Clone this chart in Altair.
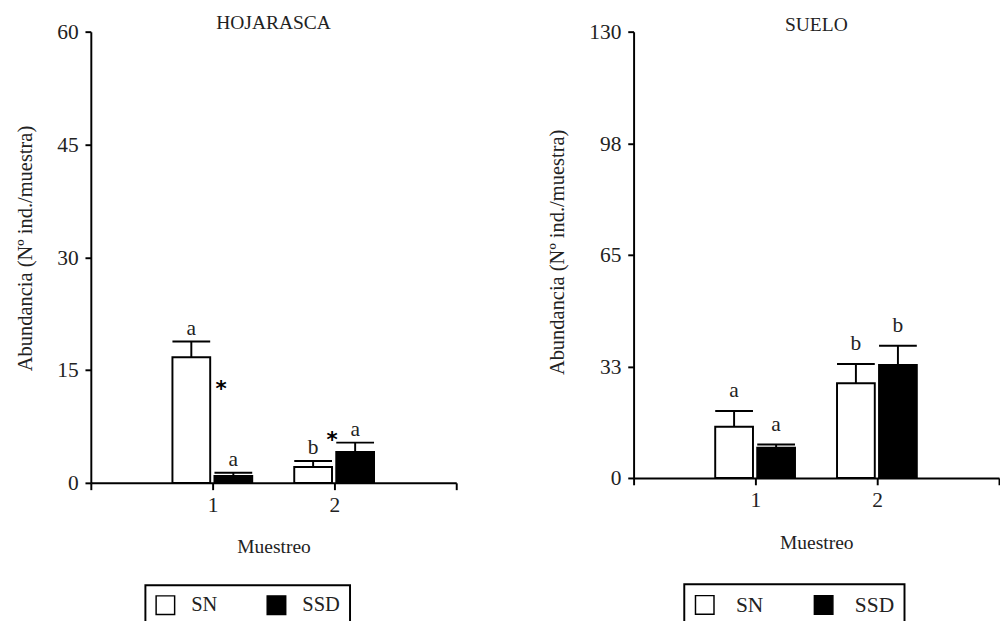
import altair as alt
import pandas as pd

# ---- data ----
muestreo = [1, 1, 2, 2]
serie = ["SN", "SSD", "SN", "SSD"]

hoj_media = [16.7, 0.9, 2.1, 4.1]
hoj_error = [2.1, 0.45, 0.8, 1.25]
hoj_letra = ["a", "a", "b", "a"]

suelo_media = [14.9, 8.8, 27.6, 32.9]
suelo_error = [4.6, 0.95, 5.6, 5.6]
suelo_letra = ["a", "a", "b", "b"]

ast_x = [1.07, 1.98]
ast_y = [13.2, 6.4]

hoj_ticks = [0, 15, 30, 45, 60]
suelo_ticks = [0, 32.5, 65, 97.5, 130]
x_ticks = [0, 1, 2, 3]

FONT = "Liberation Serif"
TXT = "#222222"


def panel(media, error, letra, ticks, ymax, title, height, title_offset, ytitle_y,
          letter_dy, legend_x, legend_y, label_offset, col_pad, legend_font,
          asterisks=None):
    df = pd.DataFrame({"Muestreo": muestreo, "Serie": serie, "Media": media,
                       "Error": error, "Letra": letra})
    xaxis = alt.Axis(values=x_ticks, title="Muestreo", grid=False,
                     labelExpr="datum.value == 1 || datum.value == 2 ? datum.label : ''",
                     domainColor="black", domainWidth=2, tickColor="black", tickWidth=2,
                     tickSize=7, labelFont=FONT, labelFontSize=22, labelColor=TXT,
                     labelPadding=5, titleFont=FONT, titleFontSize=20,
                     titleFontWeight="normal", titleColor=TXT, titlePadding=23)
    yaxis = alt.Axis(values=ticks, format=".0f", title="Abundancia (Nº ind./muestra)",
                     grid=False, domainColor="black", domainWidth=2, tickColor="black",
                     tickWidth=2, tickSize=6, labelFont=FONT, labelFontSize=22,
                     labelColor=TXT, labelPadding=7, titleFont=FONT, titleFontSize=21,
                     titleFontWeight="normal", titleColor=TXT, titlePadding=22,
                     titleY=ytitle_y)
    xs = alt.Scale(domain=[0, 3], nice=False, zero=False)
    ys = alt.Scale(domain=[0, ymax], nice=False)

    base = (alt.Chart(df)
            .transform_calculate(
                x0="datum.Serie == 'SN' ? datum.Muestreo - 0.33 : datum.Muestreo + 0.015",
                x1="datum.Serie == 'SN' ? datum.Muestreo - 0.02 : datum.Muestreo + 0.325",
                sup="datum.Media + datum.Error")
            .transform_calculate(xc="(datum.x0 + datum.x1) / 2"))

    bars = base.mark_rect(stroke="black", strokeWidth=2).encode(
        x=alt.X("x0:Q", scale=xs, axis=xaxis),
        x2="x1:Q",
        y=alt.Y("Media:Q", scale=ys, axis=yaxis),
        y2=alt.datum(0),
        fill=alt.Fill("Serie:N",
                      scale=alt.Scale(domain=["SN", "SSD"], range=["white", "black"]),
                      legend=alt.Legend(orient="none", legendX=legend_x, legendY=legend_y,
                                        direction="horizontal", title=None,
                                        symbolType="square", symbolSize=361,
                                        symbolStrokeColor="black", symbolStrokeWidth=1.5,
                                        labelFont=FONT, labelFontSize=legend_font,
                                        labelColor=TXT,
                                        labelOffset=label_offset, columnPadding=col_pad,
                                        padding=10, strokeColor="black")),
    )
    stem = base.mark_rule(color="black", strokeWidth=2).encode(
        x=alt.X("xc:Q", scale=xs, axis=xaxis),
        y=alt.Y("Media:Q", scale=ys, axis=yaxis),
        y2="sup:Q",
    )
    cap = base.mark_rule(color="black", strokeWidth=2).encode(
        x=alt.X("x0:Q", scale=xs, axis=xaxis),
        x2="x1:Q",
        y=alt.Y("sup:Q", scale=ys, axis=yaxis),
    )
    letters = base.mark_text(font=FONT, fontSize=22, color=TXT, baseline="alphabetic",
                             dy=letter_dy).encode(
        x=alt.X("xc:Q", scale=xs, axis=xaxis),
        y=alt.Y("sup:Q", scale=ys, axis=yaxis),
        text="Letra:N",
    )
    layers = [bars, stem, cap, letters]
    if asterisks is not None:
        adf = pd.DataFrame({"ax": asterisks[0], "ay": asterisks[1], "t": ["*"] * len(asterisks[0])})
        ast = alt.Chart(adf).mark_text(font="DejaVu Sans", fontWeight="bold", fontSize=22,
                                       color="black", baseline="alphabetic", dy=13).encode(
            x=alt.X("ax:Q", scale=xs, axis=xaxis),
            y=alt.Y("ay:Q", scale=ys, axis=yaxis),
            text="t:N",
        )
        layers.append(ast)
    return alt.layer(*layers).properties(
        width=375, height=height,
        title=alt.TitleParams(title, font=FONT, fontSize=20, fontWeight="normal",
                              color=TXT, offset=title_offset, frame="group"),
    )


left = panel(hoj_media, hoj_error, hoj_letra, hoj_ticks, 60, "HOJARASCA", 463, -12, 222,
             -7, 56, 568, 16, 48, 21, asterisks=(ast_x, ast_y))
right = panel(suelo_media, suelo_error, suelo_letra, suelo_ticks, 130, "SUELO", 458, -14, 226,
              -14, 52, 567, 21, 48, 22)

chart = (alt.hconcat(left, right, spacing=92)
         .resolve_scale(fill="independent")
         .configure_view(stroke=None)
         .configure_legend(strokeWidth=2)
         .properties(padding={"left": 7, "top": -3, "right": 0, "bottom": 5}))

chart.save("out.html", embed_options={"renderer": "svg", "actions": False})
